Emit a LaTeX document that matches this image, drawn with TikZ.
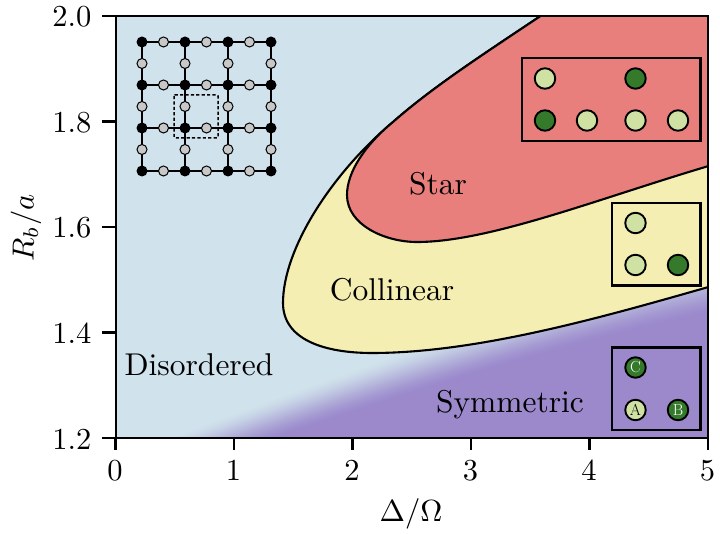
\documentclass[tikz,border=0pt]{standalone}
\begin{document}
\begin{tikzpicture}[x=1pt,y=-1pt,
  axlabel/.style={font=\fontsize{10}{12}\selectfont,inner sep=0pt,scale=3.05},
  phase/.style={font=\fontsize{10}{12}\selectfont,inner sep=0pt,scale=3.15},
  inbox/.style={draw=black,line width=2.4pt},
  site/.style={circle,draw=black,line width=1.9pt,minimum size=20.5pt,inner sep=0pt,font=\fontsize{16}{17}\selectfont},
  lg/.style={site,fill=lgreen},
  dg/.style={site,fill=dgreen,text=white},
  atomb/.style={circle,fill=black,minimum size=11pt,inner sep=0pt},
  atomg/.style={circle,draw=black,fill=latgrey,line width=1pt,minimum size=10pt,inner sep=0pt},
  bound/.style={draw=black,line width=2.1pt}]
\definecolor{bgblue}{HTML}{D0E2EB}
\definecolor{redp}{HTML}{E87F7C}
\definecolor{yelp}{HTML}{F5EEB3}
\definecolor{purp}{HTML}{9B89CC}
\definecolor{lgreen}{HTML}{CFE2A3}
\definecolor{dgreen}{HTML}{357A2B}
\definecolor{latgrey}{HTML}{C8C8C8}
\useasboundingbox (0,0) rectangle (720,534);
\begin{scope}
\clip (116,16) rectangle (708,438);
\fill[bgblue] (116,16) rectangle (708,438);
% soft edge of the symmetric phase
\foreach \i in {0,...,50}{
  \pgfmathsetmacro{\tt}{\i/50}
  \pgfmathsetmacro{\pc}{100*(0.5*\tt+0.5*(3*\tt*\tt-2*\tt*\tt*\tt))}
  \pgfmathsetmacro{\ya}{465-38*(1-\tt)}
  \pgfmathsetmacro{\yb}{410-40*(1-\tt)}
  \pgfmathsetmacro{\yc}{345-44*(1-\tt)}
  \pgfmathsetmacro{\yd}{310-50*(1-\tt)}
  \pgfmathsetmacro{\ye}{\ya+37}
  \fill[purp!\pc!bgblue] (200,\ya) .. controls (350,\yb) and (550,\yc) .. (720,\yd) -- (720,560) -- (100,560) -- (100,\ye) -- cycle;
}
% Collinear region
\def\uppercurve{(545,13) .. controls (490,50) and (435,85) .. (393,122)}
\def\outercurve{\uppercurve .. controls (330,175) and (283,250) .. (283,303) .. controls (283,340) and (325,353) .. (372,353) .. controls (480,353) and (610,315) .. (712,286)}
\def\starcurve{\uppercurve .. controls (365,145) and (347,172) .. (347,195) .. controls (347,225) and (385,242) .. (417,242) .. controls (490,242) and (600,198) .. (712,165)}
\path[fill=yelp] \outercurve -- (712,13) -- cycle;
\draw[bound] \outercurve;
\path[fill=redp] \starcurve -- (712,13) -- cycle;
\draw[bound] \starcurve;
\end{scope}
% axes
\draw[line width=2.6pt] (116,16) rectangle (708,438);
\foreach \i/\l in {0/0,1/1,2/2,3/3,4/4,5/5}{
  \pgfmathsetmacro{\px}{115.5+118.5*\i}
  \draw[line width=2.4pt] (\px,438) -- (\px,450);
  \node[axlabel,anchor=base] (xt\i) at (\px-0.5,480) {\l};
}
\foreach \i/\l in {0/1.2,1/1.4,2/1.6,3/1.8,4/2.0}{
  \pgfmathsetmacro{\py}{438-105.5*\i}
  \draw[line width=2.4pt] (102,\py) -- (116,\py);
  \node[axlabel,anchor=east] (yt\i) at (92,\py+1) {\l};
}
\node[axlabel] (xl) at (411,514) {$\Delta/\Omega$};
\node[axlabel,rotate=90] (yl) at (26,228) {$R_b/a$};
% phases
\node[phase] (star) at (438,184) {Star};
\node[phase] (col) at (392,290) {Collinear};
\node[phase] (dis) at (199,365) {Disordered};
\node[phase] (sym) at (510,405) {Symmetric};
% lattice
\foreach \a in {142,185,228,271}{
  \draw[line width=1.5pt] (\a,42) -- (\a,171);
  \draw[line width=1.5pt] (142,\a-100) -- (271,\a-100);
}
\foreach \a in {142,185,228,271}\foreach \b in {42,85,128,171}{
  \node[atomb] (n\a-\b) at (\a,\b) {};
}
\foreach \a in {163.5,206.5,249.5}\foreach \b in {42,85,128,171}{
  \node[atomg] at (\a,\b) {};
}
\foreach \a in {142,185,228,271}\foreach \b in {63.5,106.5,149.5}{
  \node[atomg] at (\a,\b) {};
}
\draw[line width=1.5pt,dash pattern=on 3.2pt off 2.2pt,rounded corners=1pt] (174,95) rectangle (218,138);
% Star box
\draw[inbox] (522,58) rectangle (700.5,141);
\node[lg] (s1) at (545,78.5) {};
\node[dg] (s2) at (635.5,78.5) {};
\node[dg] (s3) at (545,120.5) {};
\node[lg] (s4) at (587,120.5) {};
\node[lg] (s5) at (635.5,120.5) {};
\node[lg] (s6) at (678,120.5) {};
% Collinear box
\draw[inbox] (612,203) rectangle (700.5,285.5);
\node[lg] (c1) at (635.5,223) {};
\node[lg] (c2) at (635.5,265) {};
\node[dg] (c3) at (678,265) {};
% Symmetric box
\draw[inbox] (612,347.5) rectangle (700.5,430);
\node[dg] (y1) at (635.5,367.5) {C};
\node[lg] (y2) at (635.5,410) {A};
\node[dg] (y3) at (678,410) {B};
\end{tikzpicture}
\end{document}
